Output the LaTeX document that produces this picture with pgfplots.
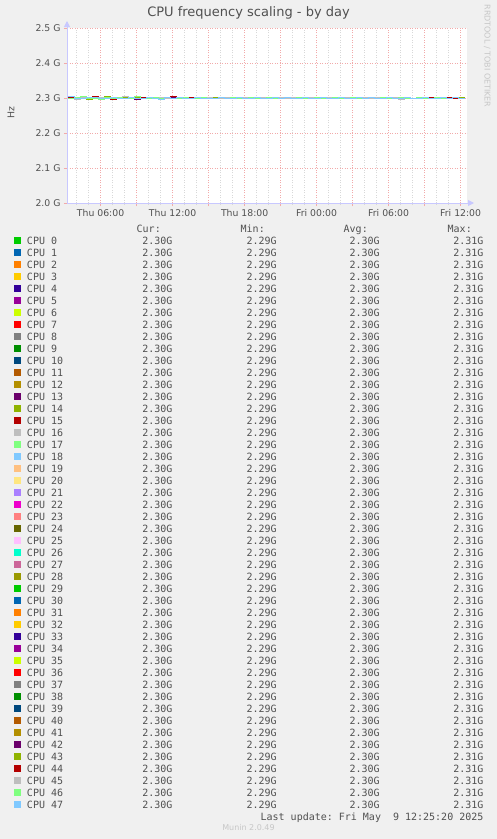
\documentclass[border=0pt]{standalone}
\usepackage{fontspec}
\setmainfont{DejaVu Sans}
\setmonofont{DejaVu Sans Mono}
\usepackage{pgfplots}
\usepackage{pgfplotstable}
\pgfplotsset{compat=1.18}
\usetikzlibrary{arrows.meta}

\definecolor{bgc}{HTML}{F0F0F0}
\definecolor{axc}{HTML}{C8C8FF}
\definecolor{majg}{HTML}{F2AAAA}
\definecolor{ming}{HTML}{D8D8D8}
\definecolor{txt}{HTML}{505050}
\definecolor{m0}{HTML}{00CC00}
\definecolor{m1}{HTML}{0066B3}
\definecolor{m2}{HTML}{FF8000}
\definecolor{m3}{HTML}{FFCC00}
\definecolor{m4}{HTML}{330099}
\definecolor{m5}{HTML}{990099}
\definecolor{m6}{HTML}{CCFF00}
\definecolor{m7}{HTML}{FF0000}
\definecolor{m8}{HTML}{808080}
\definecolor{m9}{HTML}{008F00}
\definecolor{m10}{HTML}{00487D}
\definecolor{m11}{HTML}{B35A00}
\definecolor{m12}{HTML}{B38F00}
\definecolor{m13}{HTML}{6B006B}
\definecolor{m14}{HTML}{8FB300}
\definecolor{m15}{HTML}{B30000}
\definecolor{m16}{HTML}{BEBEBE}
\definecolor{m17}{HTML}{80FF80}
\definecolor{m18}{HTML}{80C9FF}
\definecolor{m19}{HTML}{FFC080}
\definecolor{m20}{HTML}{FFE680}
\definecolor{m21}{HTML}{AA80FF}
\definecolor{m22}{HTML}{EE00CC}
\definecolor{m23}{HTML}{FF8080}
\definecolor{m24}{HTML}{666600}
\definecolor{m25}{HTML}{FFBFFF}
\definecolor{m26}{HTML}{00FFCC}
\definecolor{m27}{HTML}{CC6699}
\definecolor{m28}{HTML}{999900}

% hours since Thu 00:00 ; frequency in GHz
\pgfplotstableread{
x    a     b     c     d     e     f
3.3  2.301 2.298 2.302 2.299 2.300 2.303
3.8  2.299 2.302 2.300 2.297 2.301 2.300
4.3  2.302 2.300 2.298 2.301 2.303 2.299
4.8  2.300 2.297 2.301 2.300 2.298 2.301
5.3  2.298 2.301 2.303 2.299 2.300 2.302
5.8  2.301 2.300 2.299 2.302 2.297 2.300
6.3  2.300 2.303 2.300 2.298 2.301 2.299
6.8  2.302 2.299 2.297 2.301 2.300 2.301
7.3  2.299 2.300 2.302 2.300 2.302 2.298
7.8  2.301 2.302 2.300 2.303 2.299 2.300
8.3  2.300 2.298 2.301 2.299 2.300 2.302
8.8  2.297 2.301 2.299 2.300 2.303 2.300
9.3  2.301 2.300 2.302 2.298 2.300 2.299
9.8  2.300 2.302 2.300 2.301 2.298 2.301
10.3 2.302 2.299 2.298 2.300 2.301 2.300
10.8 2.299 2.300 2.301 2.302 2.300 2.297
11.3 2.300 2.301 2.300 2.299 2.302 2.301
11.8 2.301 2.298 2.303 2.300 2.299 2.300
12.3 2.300 2.300 2.299 2.301 2.300 2.302
12.8 2.298 2.302 2.300 2.300 2.301 2.299
13.3 2.300 2.300 2.301 2.298 2.300 2.300
13.8 2.302 2.299 2.300 2.301 2.299 2.301
14.3 2.300 2.301 2.298 2.300 2.302 2.300
14.8 2.299 2.300 2.301 2.302 2.300 2.298
15.3 2.301 2.302 2.300 2.299 2.298 2.300
15.8 2.300 2.298 2.302 2.300 2.301 2.301
16.3 2.298 2.300 2.299 2.301 2.300 2.299
16.8 2.301 2.301 2.300 2.298 2.302 2.300
17.3 2.300 2.299 2.301 2.300 2.299 2.302
17.8 2.302 2.300 2.298 2.302 2.300 2.300
18.3 2.299 2.302 2.300 2.300 2.301 2.298
18.8 2.300 2.299 2.302 2.299 2.300 2.301
19.3 2.301 2.300 2.300 2.301 2.298 2.300
19.8 2.300 2.301 2.299 2.300 2.302 2.299
20.3 2.299 2.298 2.301 2.298 2.300 2.301
20.8 2.301 2.300 2.300 2.301 2.299 2.300
21.3 2.300 2.302 2.298 2.300 2.301 2.302
21.8 2.302 2.299 2.301 2.302 2.300 2.299
22.3 2.299 2.300 2.300 2.299 2.302 2.300
22.8 2.300 2.301 2.302 2.300 2.298 2.301
23.3 2.301 2.299 2.299 2.301 2.300 2.300
23.8 2.300 2.302 2.300 2.298 2.301 2.298
24.3 2.298 2.300 2.301 2.300 2.299 2.301
24.8 2.301 2.298 2.300 2.302 2.300 2.300
25.3 2.300 2.301 2.298 2.300 2.302 2.299
25.8 2.302 2.300 2.301 2.299 2.300 2.302
26.3 2.299 2.302 2.300 2.301 2.298 2.300
26.8 2.300 2.299 2.302 2.300 2.301 2.299
27.3 2.301 2.300 2.299 2.298 2.300 2.301
27.8 2.300 2.301 2.300 2.301 2.299 2.300
28.3 2.298 2.299 2.301 2.300 2.302 2.302
28.8 2.301 2.302 2.298 2.302 2.300 2.299
29.3 2.300 2.300 2.300 2.299 2.301 2.300
29.8 2.302 2.298 2.302 2.300 2.298 2.301
30.3 2.299 2.301 2.299 2.301 2.300 2.298
30.8 2.300 2.300 2.301 2.297 2.302 2.300
31.3 2.301 2.302 2.300 2.301 2.299 2.302
31.8 2.300 2.299 2.298 2.300 2.300 2.300
32.3 2.302 2.300 2.301 2.302 2.301 2.299
32.8 2.299 2.301 2.300 2.299 2.298 2.301
33.3 2.300 2.298 2.302 2.300 2.300 2.300
33.8 2.301 2.300 2.299 2.301 2.302 2.298
34.3 2.300 2.302 2.300 2.298 2.300 2.301
34.8 2.298 2.299 2.301 2.300 2.299 2.300
35.3 2.301 2.300 2.298 2.302 2.301 2.302
35.8 2.300 2.301 2.300 2.299 2.300 2.299
36.3 2.302 2.299 2.301 2.300 2.298 2.301
}\cpudata

\newcommand\vals{\makebox[145.4bp][r]{2.30G}\makebox[104.3bp][r]{2.29G}\makebox[103bp][r]{2.30G}\makebox[103.7bp][r]{2.31G}}
\newcommand\lbl[1]{\makebox[0pt][l]{#1}\vals}
\newcommand\cpu[3]{\addplot[const plot, line width=1bp, color=#1] table[x=x,y=#2]{\cpudata};\addlegendentry{\lbl{CPU #3}}}

\begin{document}
\begin{tikzpicture}[x=1bp,y=1bp]
\fill[bgc] (0,0) rectangle (497,839);
\begin{axis}[
  at={(67bp,636bp)}, anchor=south west,
  scale only axis, width=400bp, height=175bp,
  xmin=3.2, xmax=36.53, ymin=2.0, ymax=2.5,
  axis background/.style={fill=white},
  axis lines=left,
  axis line style={draw=axc, line width=1bp},
  x axis line style={-{Triangle[length=6bp,width=6bp]}, shorten >=-7bp},
  y axis line style={-{Triangle[length=6bp,width=6bp]}, shorten >=-7bp},
  xtick={6,9,12,15,18,21,24,27,30,33,36},
  xticklabels={Thu 06:00,,Thu 12:00,,Thu 18:00,,Fri 00:00,,Fri 06:00,,Fri 12:00},
  minor xtick={4,5,7,8,10,11,13,14,16,17,19,20,22,23,25,26,28,29,31,32,34,35},
  ytick={2.0,2.1,2.2,2.3,2.4,2.5},
  yticklabels={2.0 G,2.1 G,2.2 G,2.3 G,2.4 G,2.5 G},
  grid=both,
  major grid style={draw=majg, line width=0.6bp, dash pattern=on 1bp off 1.5bp},
  minor grid style={draw=ming, line width=0.6bp, dash pattern=on 1bp off 1.5bp},
  tick align=outside,
  major tick length=3bp, minor tick length=2bp,
  major tick style={draw=majg, line width=0.8bp},
  minor tick style={draw=ming, line width=0.8bp},
  tick label style={font=\fontsize{9.3bp}{11bp}\selectfont, text=txt},
  title={CPU frequency scaling - by day},
  title style={at={(0.4538,1.0514)}, anchor=center, font=\fontsize{13bp}{15bp}\selectfont, text=txt},
  ylabel={Hz},
  ylabel style={at={(-0.14,0.514)}, anchor=center, font=\fontsize{9.3bp}{11bp}\selectfont, text=txt},
  legend cell align=left,
  legend image code/.code={\fill[#1] (0bp,-3bp) rectangle (6bp,3bp);},
  legend style={at={(-0.1325,-0.1109)}, anchor=north west, draw=none, fill=none,
    inner sep=0pt, outer sep=0pt, row sep=0pt, column sep=6bp,
    font=\fontsize{10bp}{12bp}\selectfont\ttfamily, text=txt,
    nodes={inner sep=0pt, text height=9.65bp, text depth=2.35bp}},
]
\addlegendimage{empty legend}
\addlegendentry{\makebox[109.7bp][l]{}\makebox[104bp][l]{Cur:}\makebox[103bp][l]{Min:}\makebox[104bp][l]{Avg:}Max:}
\cpu{m0}{a}{0}
\cpu{m1}{b}{1}
\cpu{m2}{c}{2}
\cpu{m3}{d}{3}
\cpu{m4}{e}{4}
\cpu{m5}{f}{5}
\cpu{m6}{a}{6}
\cpu{m7}{b}{7}
\cpu{m8}{c}{8}
\cpu{m9}{d}{9}
\cpu{m10}{e}{10}
\cpu{m11}{f}{11}
\cpu{m12}{a}{12}
\cpu{m13}{b}{13}
\cpu{m14}{c}{14}
\cpu{m15}{d}{15}
\cpu{m16}{e}{16}
\cpu{m17}{f}{17}
\cpu{m18}{a}{18}
\cpu{m19}{b}{19}
\cpu{m20}{c}{20}
\cpu{m21}{d}{21}
\cpu{m22}{e}{22}
\cpu{m23}{f}{23}
\cpu{m24}{a}{24}
\cpu{m25}{b}{25}
\cpu{m26}{c}{26}
\cpu{m27}{d}{27}
\cpu{m28}{e}{28}
\cpu{m0}{f}{29}
\cpu{m1}{a}{30}
\cpu{m2}{b}{31}
\cpu{m3}{c}{32}
\cpu{m4}{d}{33}
\cpu{m5}{e}{34}
\cpu{m6}{f}{35}
\cpu{m7}{a}{36}
\cpu{m8}{b}{37}
\cpu{m9}{c}{38}
\cpu{m10}{d}{39}
\cpu{m11}{e}{40}
\cpu{m12}{f}{41}
\cpu{m13}{a}{42}
\cpu{m14}{b}{43}
\cpu{m15}{c}{44}
\cpu{m16}{d}{45}
\cpu{m17}{e}{46}
\cpu{m18}{f}{47}
\addlegendimage{empty legend}
\addlegendentry{\makebox[456.4bp][r]{Last update: Fri May\ \ 9 12:25:20 2025}}
\end{axis}
\node[rotate=-90, font=\fontsize{8bp}{9bp}\selectfont, text=black!22] at (487.3bp,783bp) {RRDTOOL / TOBI OETIKER};
\node[font=\fontsize{8bp}{9bp}\selectfont, text=black!22] at (248.5bp,11bp) {Munin 2.0.49};
\pgfresetboundingbox
\useasboundingbox (0,0) rectangle (497bp,839bp);
\end{tikzpicture}
\end{document}
